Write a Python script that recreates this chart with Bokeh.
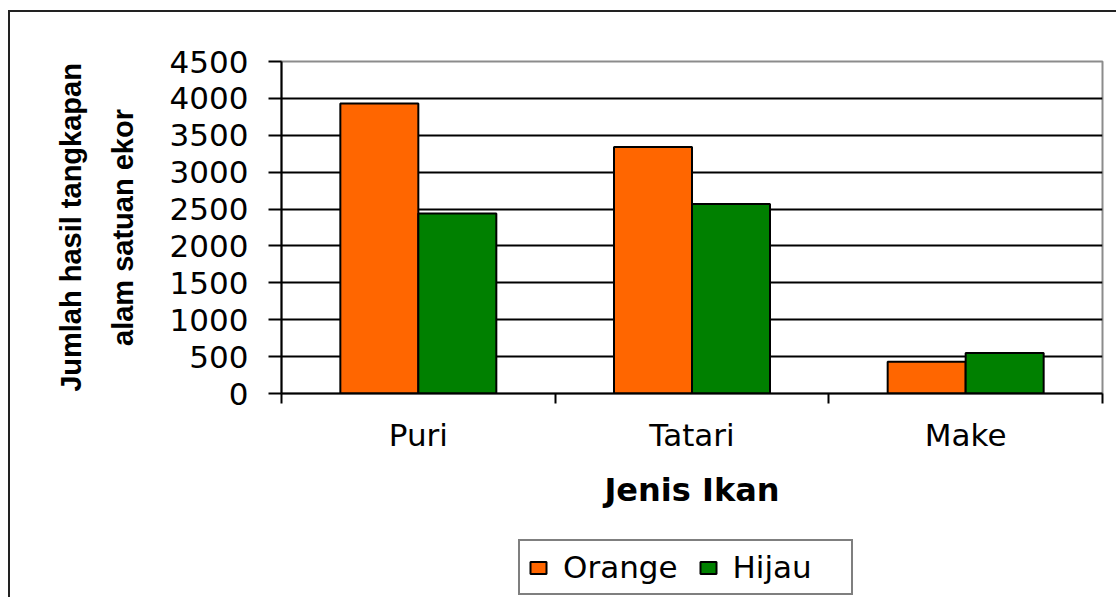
from bokeh.plotting import figure
from bokeh.layouts import column
from bokeh.models import (Range1d, LinearAxis, FixedTicker, Legend,
                          LegendItem, ColumnDataSource)
from bokeh.transform import dodge
from bokeh.embed import file_html
from bokeh.resources import INLINE

# ---- data ----
categories = ["Puri", "Tatari", "Make"]
orange = [3930, 3340, 430]
hijau = [2440, 2570, 550]
series_names = ["Orange", "Hijau"]
series_colors = ["#FF6600", "#008000"]
y_ticks = [0, 500, 1000, 1500, 2000, 2500, 3000, 3500, 4000, 4500]
x_title = "Jenis Ikan"
y_title = "Jumlah hasil tangkapan\nalam satuan ekor"

# ---- layout (canvas pixels; layout placed at page (10, 12)) ----
W, H1, H2 = 1106, 503, 82
FL, FT, FR, FB = 271, 49, 1092, 381

# category slots on a numeric axis: slot i spans [i, i+1]
centers = [i + 0.5 for i in range(len(categories))]
bounds = [float(i) for i in range(len(categories) + 1)]

src = ColumnDataSource(dict(x=centers, cat=categories, orange=orange, hijau=hijau))

p = figure(width=W, height=H1, output_backend="svg", toolbar_location=None,
           x_range=Range1d(bounds[0], bounds[-1]),
           y_range=Range1d(y_ticks[0], y_ticks[-1]),
           x_axis_location=None,
           min_border_left=FL, min_border_top=FT,
           min_border_right=W - FR, min_border_bottom=H1 - FB)
p.background_fill_color = "white"
p.border_fill_color = "white"
p.outline_line_color = "#8c8c8c"
p.outline_line_width = 2

bw = 0.285
bar_style = dict(line_color="black", line_width=2)
r1 = p.vbar(x=dodge("x", -bw / 2), top="orange", width=bw, source=src,
            fill_color=series_colors[0], **bar_style)
r2 = p.vbar(x=dodge("x", bw / 2), top="hijau", width=bw, source=src,
            fill_color=series_colors[1], **bar_style)

# grid
p.xgrid.visible = False
p.ygrid.ticker = FixedTicker(ticks=y_ticks[1:-1])
p.ygrid.grid_line_color = "black"
p.ygrid.grid_line_width = 2

# y axis
ya = p.yaxis[0]
ya.ticker = FixedTicker(ticks=y_ticks)
ya.axis_line_color = "black"
ya.axis_line_width = 2
ya.major_tick_line_color = "black"
ya.major_tick_line_width = 2
ya.major_tick_in = 0
ya.major_tick_out = 13
ya.minor_tick_line_color = None
ya.major_label_standoff = 20
ya.major_label_text_font = "DejaVu Sans"
ya.major_label_text_font_size = "31px"
ya.major_label_text_color = "black"
ya.axis_label = y_title
ya.axis_label_text_font = "Liberation Sans"
ya.axis_label_text_font_style = "bold"
ya.axis_label_text_font_size = "29px"
ya.axis_label_text_color = "black"
ya.axis_label_text_line_height = 1.6
ya.axis_label_standoff = 28

# x axis (labels at slot centres, ticks at slot boundaries)
xa = LinearAxis(ticker=FixedTicker(ticks=centers, minor_ticks=bounds),
                major_label_overrides={c: name for c, name in zip(centers, categories)})
xa.axis_line_color = "black"
xa.axis_line_width = 2
xa.major_tick_line_color = None
xa.major_tick_in = 0
xa.major_tick_out = 0
xa.minor_tick_line_color = "black"
xa.minor_tick_line_width = 2
xa.minor_tick_in = 0
xa.minor_tick_out = 10
xa.major_label_standoff = 13
xa.major_label_text_font = "DejaVu Sans"
xa.major_label_text_font_size = "31px"
xa.major_label_text_color = "black"
xa.axis_label = x_title
xa.axis_label_text_font = "DejaVu Sans"
xa.axis_label_text_font_style = "bold"
xa.axis_label_text_font_size = "32px"
xa.axis_label_text_color = "black"
xa.axis_label_standoff = 15
p.add_layout(xa, "below")

# ---- legend strip under the chart (frame aligned with the chart's frame) ----
q = figure(width=W, height=H2, output_backend="svg", toolbar_location=None,
           x_range=Range1d(0, 1), y_range=Range1d(0, 1),
           x_axis_location=None, y_axis_location=None,
           min_border=0)
q.outline_line_color = None
q.xgrid.visible = False
q.ygrid.visible = False
q.background_fill_color = "white"
q.border_fill_color = "white"
# legend keys: same bar style as the chart, not drawn themselves
k1 = q.vbar(x="x", top="orange", width=bw, source=src,
            fill_color=series_colors[0], visible=False, **bar_style)
k2 = q.vbar(x="x", top="hijau", width=bw, source=src,
            fill_color=series_colors[1], visible=False, **bar_style)

legend = Legend(items=[LegendItem(label=series_names[0], renderers=[k1]),
                       LegendItem(label=series_names[1], renderers=[k2])],
                orientation="horizontal", location=(237, 2))
legend.label_text_font = "DejaVu Sans"
legend.label_text_font_size = "31px"
legend.label_text_color = "black"
legend.glyph_width = 20
legend.glyph_height = 15
legend.label_standoff = 15
legend.spacing = 20
legend.padding = 8
legend.margin = 0
legend.label_width = 110
legend.border_line_color = "black"
legend.border_line_width = 2
legend.background_fill_color = "white"
legend.background_fill_alpha = 1
legend.inactive_fill_alpha = 0
q.add_layout(legend, "center")

# outer chart frame (its left and top edges are visible in the window)
layout = column(p, q, spacing=0,
                styles={"border-left": "2px solid #222222",
                        "border-top": "2px solid #222222",
                        "margin-left": "8px", "margin-top": "10px"})

open("out.html", "w").write(file_html(layout, INLINE))
